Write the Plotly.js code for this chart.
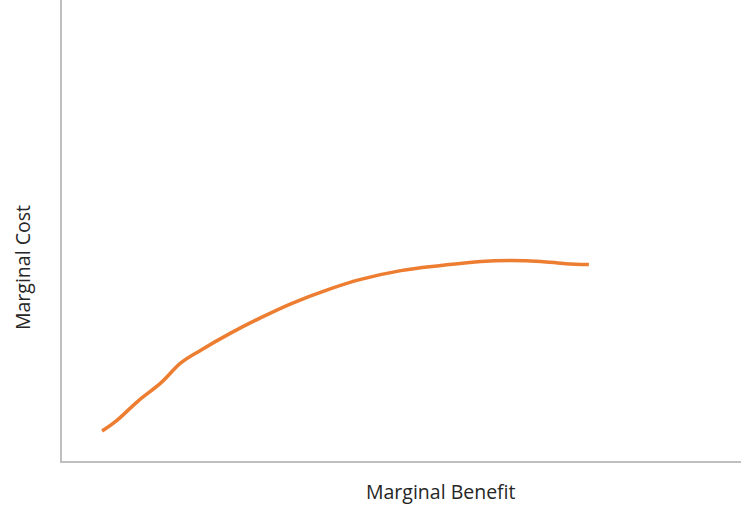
<!DOCTYPE html>
<html>
<head>
<meta charset="utf-8">
<script src="https://cdn.plot.ly/plotly-3.0.1.min.js"></script>
<style>html,body{margin:0;padding:0;background:#fff;}#chart{width:752px;height:526px;}</style>
</head>
<body>
<div id="chart"></div>
<script>
const benefit = [5.9, 8.0, 11.2, 14.6, 17.5, 20.5, 24.9, 29.3, 33.7, 39.6, 44.0, 49.9, 55.8, 61.7, 66.1, 70.5, 74.2, 77.6];
const cost = [6.5, 8.7, 13.0, 17.0, 21.3, 24.1, 27.8, 31.1, 34.1, 37.4, 39.4, 41.3, 42.4, 43.3, 43.5, 43.3, 42.8, 42.6];
const xTitle = "Marginal Benefit";
const yTitle = "Marginal Cost";

const trace = {
  x: benefit, y: cost, type: 'scatter', mode: 'lines',
  line: {color: '#ED7D31', width: 3.5, shape: 'spline', smoothing: 1},
  hoverinfo: 'skip'
};
const axisBase = {
  range: [0, 100], showline: true, linecolor: '#BFBFBF', linewidth: 2,
  showgrid: false, zeroline: false, showticklabels: false, ticks: '', fixedrange: true
};
const layout = {
  width: 752, height: 526,
  margin: {l: 62, r: 11, t: 0, b: 65},
  paper_bgcolor: '#ffffff', plot_bgcolor: '#ffffff',
  showlegend: false,
  xaxis: Object.assign({}, axisBase),
  yaxis: Object.assign({}, axisBase),
  annotations: [
    {text: xTitle, xref: 'paper', yref: 'paper', x: (441 - 62) / 679, y: -31 / 461,
     showarrow: false, xanchor: 'center', yanchor: 'middle',
     font: {family: 'Open Sans, sans-serif', size: 19.5, color: '#262626'}},
    {text: yTitle, xref: 'paper', yref: 'paper', x: (22 - 62) / 679, y: (461 - 268) / 461,
     showarrow: false, xanchor: 'center', yanchor: 'middle', textangle: -90,
     font: {family: 'Open Sans, sans-serif', size: 19.5, color: '#262626'}}
  ]
};
Plotly.newPlot('chart', [trace], layout, {displayModeBar: false, staticPlot: true});
</script>
</body>
</html>
